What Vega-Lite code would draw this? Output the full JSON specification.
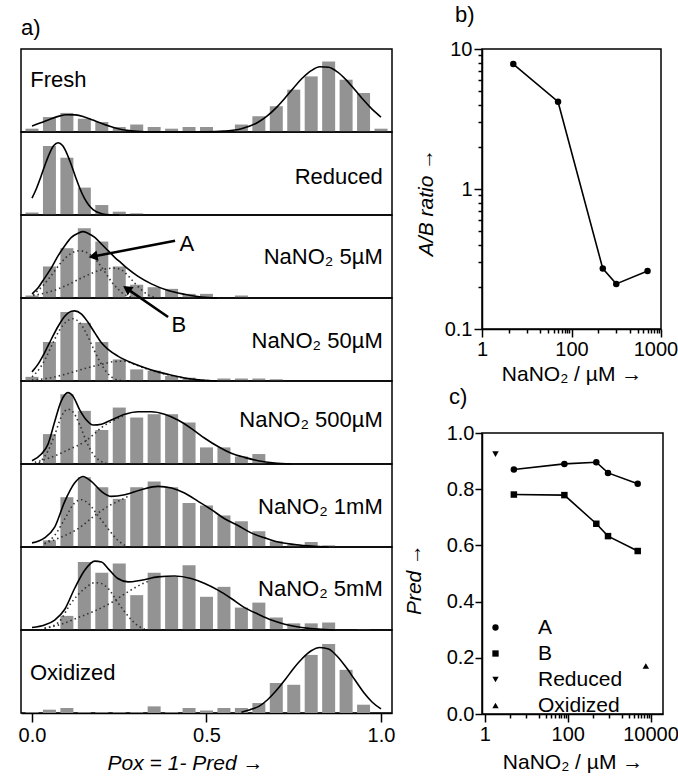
{
 "$schema": "https://vega.github.io/schema/vega-lite/v6.json",
 "background": "white",
 "padding": {"left": 17, "top": 3, "right": 0, "bottom": 0},
 "spacing": 6,
 "resolve": {"legend": {"shape": "independent"}, "scale": {"shape": "independent"}},
 "config": {
  "font": "Liberation Sans",
  "view": {"stroke": "black", "strokeWidth": 1.5},
  "axis": {"domainColor": "black", "domainWidth": 1.5, "tickColor": "black", "tickWidth": 1.5, "labelColor": "black", "titleColor": "black", "labelFontSize": 20, "titleFontSize": 21, "titleFontWeight": "normal", "grid": false, "labelFlush": false, "labelOverlap": false},
  "title": {"fontSize": 22, "fontWeight": "normal", "color": "black"},
  "legend": {"labelColor": "black"},
  "text": {"color": "black"}
 },
 "datasets": {
  "bars": [
   {"s":"Fresh","x":0,"y":0.04},{"s":"Fresh","x":0.05,"y":0.18},{"s":"Fresh","x":0.1,"y":0.23},{"s":"Fresh","x":0.15,"y":0.16},{"s":"Fresh","x":0.2,"y":0.12},{"s":"Fresh","x":0.25,"y":0.06},{"s":"Fresh","x":0.3,"y":0.09},{"s":"Fresh","x":0.35,"y":0.06},{"s":"Fresh","x":0.4,"y":0.04},{"s":"Fresh","x":0.45,"y":0.06},{"s":"Fresh","x":0.5,"y":0.06},{"s":"Fresh","x":0.6,"y":0.09},{"s":"Fresh","x":0.65,"y":0.19},{"s":"Fresh","x":0.7,"y":0.31},{"s":"Fresh","x":0.75,"y":0.51},{"s":"Fresh","x":0.8,"y":0.67},{"s":"Fresh","x":0.85,"y":0.85},{"s":"Fresh","x":0.9,"y":0.63},{"s":"Fresh","x":0.95,"y":0.47},{"s":"Fresh","x":1,"y":0.04},
   {"s":"Reduced","x":0,"y":0.03},{"s":"Reduced","x":0.05,"y":0.83},{"s":"Reduced","x":0.1,"y":0.69},{"s":"Reduced","x":0.15,"y":0.33},{"s":"Reduced","x":0.2,"y":0.12},{"s":"Reduced","x":0.25,"y":0.04},{"s":"Reduced","x":0.3,"y":0.02},
   {"s":"5uM","x":0,"y":0.03},{"s":"5uM","x":0.05,"y":0.38},{"s":"5uM","x":0.1,"y":0.6},{"s":"5uM","x":0.15,"y":0.84},{"s":"5uM","x":0.2,"y":0.68},{"s":"5uM","x":0.25,"y":0.38},{"s":"5uM","x":0.3,"y":0.16},{"s":"5uM","x":0.35,"y":0.13},{"s":"5uM","x":0.4,"y":0.11},{"s":"5uM","x":0.45,"y":0.05},{"s":"5uM","x":0.5,"y":0.05},{"s":"5uM","x":0.6,"y":0.03},
   {"s":"50uM","x":0,"y":0.05},{"s":"50uM","x":0.05,"y":0.47},{"s":"50uM","x":0.1,"y":0.83},{"s":"50uM","x":0.15,"y":0.7},{"s":"50uM","x":0.2,"y":0.47},{"s":"50uM","x":0.25,"y":0.26},{"s":"50uM","x":0.3,"y":0.14},{"s":"50uM","x":0.35,"y":0.125},{"s":"50uM","x":0.4,"y":0.06},{"s":"50uM","x":0.45,"y":0.04},{"s":"50uM","x":0.55,"y":0.03},{"s":"50uM","x":0.6,"y":0.03},{"s":"50uM","x":0.65,"y":0.03},{"s":"50uM","x":0.7,"y":0.02},
   {"s":"500uM","x":0.05,"y":0.36},{"s":"500uM","x":0.1,"y":0.84},{"s":"500uM","x":0.15,"y":0.64},{"s":"500uM","x":0.2,"y":0.41},{"s":"500uM","x":0.25,"y":0.68},{"s":"500uM","x":0.3,"y":0.56},{"s":"500uM","x":0.35,"y":0.6},{"s":"500uM","x":0.4,"y":0.6},{"s":"500uM","x":0.45,"y":0.5},{"s":"500uM","x":0.5,"y":0.2},{"s":"500uM","x":0.55,"y":0.2},{"s":"500uM","x":0.6,"y":0.09},{"s":"500uM","x":0.65,"y":0.12},
   {"s":"1mM","x":0.05,"y":0.08},{"s":"1mM","x":0.1,"y":0.6},{"s":"1mM","x":0.15,"y":0.84},{"s":"1mM","x":0.2,"y":0.72},{"s":"1mM","x":0.25,"y":0.58},{"s":"1mM","x":0.3,"y":0.72},{"s":"1mM","x":0.35,"y":0.79},{"s":"1mM","x":0.4,"y":0.72},{"s":"1mM","x":0.45,"y":0.53},{"s":"1mM","x":0.5,"y":0.5},{"s":"1mM","x":0.55,"y":0.38},{"s":"1mM","x":0.6,"y":0.31},{"s":"1mM","x":0.65,"y":0.19},{"s":"1mM","x":0.7,"y":0.07},{"s":"1mM","x":0.75,"y":0.03},{"s":"1mM","x":0.8,"y":0.06},{"s":"1mM","x":0.85,"y":0.02},
   {"s":"5mM","x":0.1,"y":0.17},{"s":"5mM","x":0.15,"y":0.82},{"s":"5mM","x":0.2,"y":0.69},{"s":"5mM","x":0.25,"y":0.8},{"s":"5mM","x":0.3,"y":0.42},{"s":"5mM","x":0.35,"y":0.69},{"s":"5mM","x":0.4,"y":0.64},{"s":"5mM","x":0.45,"y":0.78},{"s":"5mM","x":0.5,"y":0.4},{"s":"5mM","x":0.55,"y":0.52},{"s":"5mM","x":0.6,"y":0.27},{"s":"5mM","x":0.65,"y":0.33},{"s":"5mM","x":0.7,"y":0.15},{"s":"5mM","x":0.75,"y":0.08},{"s":"5mM","x":0.8,"y":0.08},{"s":"5mM","x":0.85,"y":0.09},{"s":"5mM","x":0.95,"y":0.01},
   {"s":"Oxidized","x":0,"y":0.01},{"s":"Oxidized","x":0.05,"y":0.04},{"s":"Oxidized","x":0.1,"y":0.06},{"s":"Oxidized","x":0.15,"y":0.01},{"s":"Oxidized","x":0.2,"y":0.01},{"s":"Oxidized","x":0.25,"y":0.01},{"s":"Oxidized","x":0.3,"y":0.01},{"s":"Oxidized","x":0.35,"y":0.08},{"s":"Oxidized","x":0.4,"y":0.01},{"s":"Oxidized","x":0.45,"y":0.06},{"s":"Oxidized","x":0.5,"y":0.03},{"s":"Oxidized","x":0.55,"y":0.06},{"s":"Oxidized","x":0.6,"y":0.06},{"s":"Oxidized","x":0.65,"y":0.12},{"s":"Oxidized","x":0.7,"y":0.36},{"s":"Oxidized","x":0.75,"y":0.34},{"s":"Oxidized","x":0.8,"y":0.7},{"s":"Oxidized","x":0.85,"y":0.83},{"s":"Oxidized","x":0.9,"y":0.52},{"s":"Oxidized","x":0.95,"y":0.1}
  ],
  "curves": [
   {"s":"Fresh","c":"fit","x":0,"y":0.072},{"s":"Fresh","c":"fit","x":0.025,"y":0.11},{"s":"Fresh","c":"fit","x":0.05,"y":0.152},{"s":"Fresh","c":"fit","x":0.075,"y":0.188},{"s":"Fresh","c":"fit","x":0.1,"y":0.208},{"s":"Fresh","c":"fit","x":0.125,"y":0.206},{"s":"Fresh","c":"fit","x":0.15,"y":0.182},{"s":"Fresh","c":"fit","x":0.175,"y":0.144},{"s":"Fresh","c":"fit","x":0.2,"y":0.102},{"s":"Fresh","c":"fit","x":0.225,"y":0.066},{"s":"Fresh","c":"fit","x":0.25,"y":0.037},{"s":"Fresh","c":"fit","x":0.3,"y":0.009},{"s":"Fresh","c":"fit","x":0.35,"y":0.001},{"s":"Fresh","c":"fit","x":0.4,"y":0},{"s":"Fresh","c":"fit","x":0.45,"y":0},{"s":"Fresh","c":"fit","x":0.5,"y":0.001},{"s":"Fresh","c":"fit","x":0.55,"y":0.01},{"s":"Fresh","c":"fit","x":0.6,"y":0.039},{"s":"Fresh","c":"fit","x":0.65,"y":0.123},{"s":"Fresh","c":"fit","x":0.675,"y":0.197},{"s":"Fresh","c":"fit","x":0.7,"y":0.294},{"s":"Fresh","c":"fit","x":0.725,"y":0.41},{"s":"Fresh","c":"fit","x":0.75,"y":0.534},{"s":"Fresh","c":"fit","x":0.775,"y":0.65},{"s":"Fresh","c":"fit","x":0.8,"y":0.739},{"s":"Fresh","c":"fit","x":0.825,"y":0.786},{"s":"Fresh","c":"fit","x":0.85,"y":0.78},{"s":"Fresh","c":"fit","x":0.875,"y":0.724},{"s":"Fresh","c":"fit","x":0.9,"y":0.628},{"s":"Fresh","c":"fit","x":0.925,"y":0.509},{"s":"Fresh","c":"fit","x":0.95,"y":0.385},{"s":"Fresh","c":"fit","x":0.975,"y":0.273},{"s":"Fresh","c":"fit","x":1,"y":0.18},
   {"s":"Reduced","c":"fit","x":0,"y":0.203},{"s":"Reduced","c":"fit","x":0.0125,"y":0.317},{"s":"Reduced","c":"fit","x":0.025,"y":0.456},{"s":"Reduced","c":"fit","x":0.0375,"y":0.605},{"s":"Reduced","c":"fit","x":0.05,"y":0.74},{"s":"Reduced","c":"fit","x":0.0625,"y":0.836},{"s":"Reduced","c":"fit","x":0.075,"y":0.87},{"s":"Reduced","c":"fit","x":0.0875,"y":0.836},{"s":"Reduced","c":"fit","x":0.1,"y":0.74},{"s":"Reduced","c":"fit","x":0.1125,"y":0.605},{"s":"Reduced","c":"fit","x":0.125,"y":0.456},{"s":"Reduced","c":"fit","x":0.1375,"y":0.317},{"s":"Reduced","c":"fit","x":0.15,"y":0.203},{"s":"Reduced","c":"fit","x":0.1625,"y":0.12},{"s":"Reduced","c":"fit","x":0.175,"y":0.066},{"s":"Reduced","c":"fit","x":0.2,"y":0.016},{"s":"Reduced","c":"fit","x":0.225,"y":0.003},{"s":"Reduced","c":"fit","x":0.25,"y":0},
   {"s":"5uM","c":"fit","x":0,"y":0.05},{"s":"5uM","c":"fit","x":0.017,"y":0.12},{"s":"5uM","c":"fit","x":0.036,"y":0.24},{"s":"5uM","c":"fit","x":0.055,"y":0.36},{"s":"5uM","c":"fit","x":0.075,"y":0.51},{"s":"5uM","c":"fit","x":0.094,"y":0.63},{"s":"5uM","c":"fit","x":0.113,"y":0.73},{"s":"5uM","c":"fit","x":0.132,"y":0.78},{"s":"5uM","c":"fit","x":0.146,"y":0.8},{"s":"5uM","c":"fit","x":0.16,"y":0.78},{"s":"5uM","c":"fit","x":0.18,"y":0.73},{"s":"5uM","c":"fit","x":0.199,"y":0.65},{"s":"5uM","c":"fit","x":0.218,"y":0.57},{"s":"5uM","c":"fit","x":0.237,"y":0.49},{"s":"5uM","c":"fit","x":0.256,"y":0.42},{"s":"5uM","c":"fit","x":0.275,"y":0.35},{"s":"5uM","c":"fit","x":0.304,"y":0.26},{"s":"5uM","c":"fit","x":0.342,"y":0.17},{"s":"5uM","c":"fit","x":0.39,"y":0.09},{"s":"5uM","c":"fit","x":0.437,"y":0.045},{"s":"5uM","c":"fit","x":0.485,"y":0.012},{"s":"5uM","c":"fit","x":0.53,"y":0},
   {"s":"5uM","c":"A","x":0.003,"y":0.04},{"s":"5uM","c":"A","x":0.027,"y":0.13},{"s":"5uM","c":"A","x":0.055,"y":0.27},{"s":"5uM","c":"A","x":0.084,"y":0.43},{"s":"5uM","c":"A","x":0.113,"y":0.54},{"s":"5uM","c":"A","x":0.137,"y":0.57},{"s":"5uM","c":"A","x":0.16,"y":0.54},{"s":"5uM","c":"A","x":0.189,"y":0.43},{"s":"5uM","c":"A","x":0.208,"y":0.32},{"s":"5uM","c":"A","x":0.227,"y":0.2},{"s":"5uM","c":"A","x":0.246,"y":0.11},{"s":"5uM","c":"A","x":0.266,"y":0.04},{"s":"5uM","c":"A","x":0.29,"y":0.01},
   {"s":"5uM","c":"B","x":0.003,"y":0.03},{"s":"5uM","c":"B","x":0.055,"y":0.08},{"s":"5uM","c":"B","x":0.103,"y":0.16},{"s":"5uM","c":"B","x":0.151,"y":0.26},{"s":"5uM","c":"B","x":0.199,"y":0.34},{"s":"5uM","c":"B","x":0.237,"y":0.36},{"s":"5uM","c":"B","x":0.256,"y":0.34},{"s":"5uM","c":"B","x":0.275,"y":0.27},{"s":"5uM","c":"B","x":0.294,"y":0.18},{"s":"5uM","c":"B","x":0.313,"y":0.1},{"s":"5uM","c":"B","x":0.332,"y":0.04},{"s":"5uM","c":"B","x":0.35,"y":0.01},
   {"s":"50uM","c":"fit","x":0,"y":0.11},{"s":"50uM","c":"fit","x":0.017,"y":0.2},{"s":"50uM","c":"fit","x":0.036,"y":0.34},{"s":"50uM","c":"fit","x":0.055,"y":0.5},{"s":"50uM","c":"fit","x":0.075,"y":0.66},{"s":"50uM","c":"fit","x":0.094,"y":0.78},{"s":"50uM","c":"fit","x":0.113,"y":0.84},{"s":"50uM","c":"fit","x":0.122,"y":0.845},{"s":"50uM","c":"fit","x":0.141,"y":0.81},{"s":"50uM","c":"fit","x":0.16,"y":0.71},{"s":"50uM","c":"fit","x":0.18,"y":0.58},{"s":"50uM","c":"fit","x":0.199,"y":0.46},{"s":"50uM","c":"fit","x":0.218,"y":0.38},{"s":"50uM","c":"fit","x":0.246,"y":0.3},{"s":"50uM","c":"fit","x":0.285,"y":0.22},{"s":"50uM","c":"fit","x":0.323,"y":0.16},{"s":"50uM","c":"fit","x":0.361,"y":0.11},{"s":"50uM","c":"fit","x":0.4,"y":0.07},{"s":"50uM","c":"fit","x":0.437,"y":0.036},{"s":"50uM","c":"fit","x":0.485,"y":0.012},{"s":"50uM","c":"fit","x":0.53,"y":0},
   {"s":"50uM","c":"A","x":0,"y":0.05},{"s":"50uM","c":"A","x":0.02,"y":0.14},{"s":"50uM","c":"A","x":0.04,"y":0.28},{"s":"50uM","c":"A","x":0.06,"y":0.46},{"s":"50uM","c":"A","x":0.08,"y":0.62},{"s":"50uM","c":"A","x":0.1,"y":0.72},{"s":"50uM","c":"A","x":0.117,"y":0.75},{"s":"50uM","c":"A","x":0.135,"y":0.71},{"s":"50uM","c":"A","x":0.155,"y":0.58},{"s":"50uM","c":"A","x":0.175,"y":0.4},{"s":"50uM","c":"A","x":0.195,"y":0.23},{"s":"50uM","c":"A","x":0.215,"y":0.1},{"s":"50uM","c":"A","x":0.235,"y":0.03},{"s":"50uM","c":"A","x":0.255,"y":0.005},
   {"s":"50uM","c":"B","x":0,"y":0.01},{"s":"50uM","c":"B","x":0.055,"y":0.04},{"s":"50uM","c":"B","x":0.103,"y":0.09},{"s":"50uM","c":"B","x":0.151,"y":0.15},{"s":"50uM","c":"B","x":0.199,"y":0.2},{"s":"50uM","c":"B","x":0.237,"y":0.235},{"s":"50uM","c":"B","x":0.266,"y":0.24},{"s":"50uM","c":"B","x":0.294,"y":0.2},{"s":"50uM","c":"B","x":0.323,"y":0.155},{"s":"50uM","c":"B","x":0.361,"y":0.105},{"s":"50uM","c":"B","x":0.4,"y":0.066},{"s":"50uM","c":"B","x":0.437,"y":0.034},{"s":"50uM","c":"B","x":0.485,"y":0.01},{"s":"50uM","c":"B","x":0.53,"y":0},
   {"s":"500uM","c":"fit","x":0,"y":0.04},{"s":"500uM","c":"fit","x":0.027,"y":0.12},{"s":"500uM","c":"fit","x":0.046,"y":0.24},{"s":"500uM","c":"fit","x":0.065,"y":0.51},{"s":"500uM","c":"fit","x":0.084,"y":0.76},{"s":"500uM","c":"fit","x":0.103,"y":0.86},{"s":"500uM","c":"fit","x":0.117,"y":0.82},{"s":"500uM","c":"fit","x":0.137,"y":0.65},{"s":"500uM","c":"fit","x":0.156,"y":0.53},{"s":"500uM","c":"fit","x":0.175,"y":0.47},{"s":"500uM","c":"fit","x":0.199,"y":0.48},{"s":"500uM","c":"fit","x":0.227,"y":0.53},{"s":"500uM","c":"fit","x":0.266,"y":0.6},{"s":"500uM","c":"fit","x":0.304,"y":0.63},{"s":"500uM","c":"fit","x":0.342,"y":0.63},{"s":"500uM","c":"fit","x":0.38,"y":0.6},{"s":"500uM","c":"fit","x":0.418,"y":0.53},{"s":"500uM","c":"fit","x":0.456,"y":0.43},{"s":"500uM","c":"fit","x":0.495,"y":0.31},{"s":"500uM","c":"fit","x":0.533,"y":0.21},{"s":"500uM","c":"fit","x":0.571,"y":0.13},{"s":"500uM","c":"fit","x":0.609,"y":0.08},{"s":"500uM","c":"fit","x":0.648,"y":0.04},{"s":"500uM","c":"fit","x":0.695,"y":0.012},{"s":"500uM","c":"fit","x":0.743,"y":0},
   {"s":"500uM","c":"A","x":0.02,"y":0.01},{"s":"500uM","c":"A","x":0.046,"y":0.16},{"s":"500uM","c":"A","x":0.065,"y":0.35},{"s":"500uM","c":"A","x":0.084,"y":0.57},{"s":"500uM","c":"A","x":0.103,"y":0.66},{"s":"500uM","c":"A","x":0.117,"y":0.63},{"s":"500uM","c":"A","x":0.137,"y":0.47},{"s":"500uM","c":"A","x":0.156,"y":0.27},{"s":"500uM","c":"A","x":0.175,"y":0.12},{"s":"500uM","c":"A","x":0.194,"y":0.04},{"s":"500uM","c":"A","x":0.213,"y":0.01},
   {"s":"500uM","c":"B","x":0.008,"y":0.02},{"s":"500uM","c":"B","x":0.055,"y":0.08},{"s":"500uM","c":"B","x":0.103,"y":0.17},{"s":"500uM","c":"B","x":0.151,"y":0.27},{"s":"500uM","c":"B","x":0.175,"y":0.35},{"s":"500uM","c":"B","x":0.199,"y":0.44},{"s":"500uM","c":"B","x":0.227,"y":0.51},{"s":"500uM","c":"B","x":0.266,"y":0.59},
   {"s":"1mM","c":"fit","x":0,"y":0.05},{"s":"1mM","c":"fit","x":0.036,"y":0.11},{"s":"1mM","c":"fit","x":0.065,"y":0.24},{"s":"1mM","c":"fit","x":0.094,"y":0.55},{"s":"1mM","c":"fit","x":0.122,"y":0.77},{"s":"1mM","c":"fit","x":0.146,"y":0.85},{"s":"1mM","c":"fit","x":0.17,"y":0.79},{"s":"1mM","c":"fit","x":0.199,"y":0.67},{"s":"1mM","c":"fit","x":0.227,"y":0.61},{"s":"1mM","c":"fit","x":0.266,"y":0.63},{"s":"1mM","c":"fit","x":0.313,"y":0.69},{"s":"1mM","c":"fit","x":0.361,"y":0.73},{"s":"1mM","c":"fit","x":0.4,"y":0.71},{"s":"1mM","c":"fit","x":0.437,"y":0.65},{"s":"1mM","c":"fit","x":0.476,"y":0.55},{"s":"1mM","c":"fit","x":0.514,"y":0.45},{"s":"1mM","c":"fit","x":0.552,"y":0.34},{"s":"1mM","c":"fit","x":0.59,"y":0.26},{"s":"1mM","c":"fit","x":0.628,"y":0.17},{"s":"1mM","c":"fit","x":0.667,"y":0.11},{"s":"1mM","c":"fit","x":0.705,"y":0.06},{"s":"1mM","c":"fit","x":0.753,"y":0.03},{"s":"1mM","c":"fit","x":0.8,"y":0.01},{"s":"1mM","c":"fit","x":0.85,"y":0},
   {"s":"1mM","c":"A","x":0.036,"y":0.04},{"s":"1mM","c":"A","x":0.065,"y":0.14},{"s":"1mM","c":"A","x":0.094,"y":0.34},{"s":"1mM","c":"A","x":0.122,"y":0.53},{"s":"1mM","c":"A","x":0.141,"y":0.57},{"s":"1mM","c":"A","x":0.16,"y":0.53},{"s":"1mM","c":"A","x":0.189,"y":0.38},{"s":"1mM","c":"A","x":0.218,"y":0.22},{"s":"1mM","c":"A","x":0.246,"y":0.08},{"s":"1mM","c":"A","x":0.266,"y":0.02},
   {"s":"1mM","c":"B","x":0.036,"y":0.04},{"s":"1mM","c":"B","x":0.084,"y":0.12},{"s":"1mM","c":"B","x":0.132,"y":0.22},{"s":"1mM","c":"B","x":0.18,"y":0.38},{"s":"1mM","c":"B","x":0.218,"y":0.49},{"s":"1mM","c":"B","x":0.256,"y":0.57},{"s":"1mM","c":"B","x":0.28,"y":0.62},
   {"s":"5mM","c":"fit","x":0,"y":0.03},{"s":"5mM","c":"fit","x":0.036,"y":0.06},{"s":"5mM","c":"fit","x":0.065,"y":0.12},{"s":"5mM","c":"fit","x":0.094,"y":0.25},{"s":"5mM","c":"fit","x":0.122,"y":0.5},{"s":"5mM","c":"fit","x":0.151,"y":0.72},{"s":"5mM","c":"fit","x":0.18,"y":0.83},{"s":"5mM","c":"fit","x":0.199,"y":0.82},{"s":"5mM","c":"fit","x":0.218,"y":0.74},{"s":"5mM","c":"fit","x":0.246,"y":0.62},{"s":"5mM","c":"fit","x":0.275,"y":0.58},{"s":"5mM","c":"fit","x":0.313,"y":0.6},{"s":"5mM","c":"fit","x":0.361,"y":0.64},{"s":"5mM","c":"fit","x":0.409,"y":0.65},{"s":"5mM","c":"fit","x":0.456,"y":0.62},{"s":"5mM","c":"fit","x":0.495,"y":0.56},{"s":"5mM","c":"fit","x":0.533,"y":0.48},{"s":"5mM","c":"fit","x":0.571,"y":0.38},{"s":"5mM","c":"fit","x":0.609,"y":0.27},{"s":"5mM","c":"fit","x":0.648,"y":0.19},{"s":"5mM","c":"fit","x":0.686,"y":0.12},{"s":"5mM","c":"fit","x":0.724,"y":0.07},{"s":"5mM","c":"fit","x":0.772,"y":0.03},{"s":"5mM","c":"fit","x":0.82,"y":0.012},{"s":"5mM","c":"fit","x":0.867,"y":0},
   {"s":"5mM","c":"A","x":0.036,"y":0.02},{"s":"5mM","c":"A","x":0.075,"y":0.09},{"s":"5mM","c":"A","x":0.113,"y":0.33},{"s":"5mM","c":"A","x":0.151,"y":0.5},{"s":"5mM","c":"A","x":0.18,"y":0.57},{"s":"5mM","c":"A","x":0.199,"y":0.56},{"s":"5mM","c":"A","x":0.218,"y":0.5},{"s":"5mM","c":"A","x":0.246,"y":0.33},{"s":"5mM","c":"A","x":0.275,"y":0.17},{"s":"5mM","c":"A","x":0.304,"y":0.05},{"s":"5mM","c":"A","x":0.323,"y":0.01},
   {"s":"5mM","c":"B","x":0.036,"y":0.02},{"s":"5mM","c":"B","x":0.084,"y":0.07},{"s":"5mM","c":"B","x":0.132,"y":0.15},{"s":"5mM","c":"B","x":0.18,"y":0.23},{"s":"5mM","c":"B","x":0.227,"y":0.33},{"s":"5mM","c":"B","x":0.275,"y":0.46},{"s":"5mM","c":"B","x":0.313,"y":0.55},{"s":"5mM","c":"B","x":0.34,"y":0.6},
   {"s":"Oxidized","c":"fit","x":0.6,"y":0.01},{"s":"Oxidized","c":"fit","x":0.625,"y":0.04},{"s":"Oxidized","c":"fit","x":0.65,"y":0.08},{"s":"Oxidized","c":"fit","x":0.675,"y":0.16},{"s":"Oxidized","c":"fit","x":0.7,"y":0.27},{"s":"Oxidized","c":"fit","x":0.725,"y":0.4},{"s":"Oxidized","c":"fit","x":0.75,"y":0.54},{"s":"Oxidized","c":"fit","x":0.775,"y":0.66},{"s":"Oxidized","c":"fit","x":0.8,"y":0.75},{"s":"Oxidized","c":"fit","x":0.825,"y":0.79},{"s":"Oxidized","c":"fit","x":0.85,"y":0.77},{"s":"Oxidized","c":"fit","x":0.875,"y":0.68},{"s":"Oxidized","c":"fit","x":0.9,"y":0.55},{"s":"Oxidized","c":"fit","x":0.925,"y":0.4},{"s":"Oxidized","c":"fit","x":0.95,"y":0.25},{"s":"Oxidized","c":"fit","x":0.975,"y":0.13},{"s":"Oxidized","c":"fit","x":1,"y":0.05}
  ],
  "ratio": [
   {"conc":5,"ratio":7.8},{"conc":50,"ratio":4.2},{"conc":500,"ratio":0.27},{"conc":1000,"ratio":0.21},{"conc":5000,"ratio":0.26}
  ],
  "pred": [
   {"series":"A","conc":5,"p":0.87},{"series":"A","conc":83,"p":0.89},{"series":"A","conc":490,"p":0.896},{"series":"A","conc":940,"p":0.858},{"series":"A","conc":4900,"p":0.819},
   {"series":"B","conc":5,"p":0.781},{"series":"B","conc":83,"p":0.779},{"series":"B","conc":490,"p":0.677},{"series":"B","conc":940,"p":0.633},{"series":"B","conc":4900,"p":0.58},
   {"series":"Reduced","conc":1.8,"p":0.925},
   {"series":"Oxidized","conc":7700,"p":0.171}
  ]
 },
 "hconcat": [
  {
   "title": {"text": "a)", "anchor": "start", "frame": "group", "offset": 8},
   "spacing": 0,
   "bounds": "flush",
   "vconcat": [
    {
     "width": 371, "height": 83,
     "layer": [
      {"data": {"name": "bars"}, "transform": [{"filter": "datum.s == 'Fresh'"}], "mark": {"type": "bar", "orient": "vertical", "width": 13, "color": "#939393"},
       "encoding": {"x": {"field": "x", "type": "quantitative", "scale": {"domain": [-0.0315, 1.0315], "nice": false, "zero": false, "padding": 0}, "axis": null}, "y": {"field": "y", "type": "quantitative", "scale": {"domain": [0, 1], "nice": false}, "axis": null}}},
      {"data": {"name": "curves"}, "transform": [{"filter": "datum.s == 'Fresh' && datum.c == 'fit'"}], "mark": {"type": "line", "color": "black", "strokeWidth": 1.6, "interpolate": "monotone"},
       "encoding": {"x": {"field": "x", "type": "quantitative"}, "y": {"field": "y", "type": "quantitative"}}},
      {"data": {"values": [{"label": "Fresh"}]}, "mark": {"type": "text", "align": "left", "baseline": "middle", "fontSize": 22},
       "encoding": {"x": {"datum": -0.005, "type": "quantitative"}, "y": {"datum": 0.63, "type": "quantitative"}, "text": {"field": "label"}}}
     ]
    },
    {
     "width": 371, "height": 83,
     "layer": [
      {"data": {"name": "bars"}, "transform": [{"filter": "datum.s == 'Reduced'"}], "mark": {"type": "bar", "orient": "vertical", "width": 13, "color": "#939393"},
       "encoding": {"x": {"field": "x", "type": "quantitative", "scale": {"domain": [-0.0315, 1.0315], "nice": false, "zero": false, "padding": 0}, "axis": null}, "y": {"field": "y", "type": "quantitative", "scale": {"domain": [0, 1], "nice": false}, "axis": null}}},
      {"data": {"name": "curves"}, "transform": [{"filter": "datum.s == 'Reduced' && datum.c == 'fit'"}], "mark": {"type": "line", "color": "black", "strokeWidth": 1.6, "interpolate": "monotone"},
       "encoding": {"x": {"field": "x", "type": "quantitative"}, "y": {"field": "y", "type": "quantitative"}}},
      {"data": {"values": [{"label": "Reduced"}]}, "mark": {"type": "text", "align": "right", "baseline": "middle", "fontSize": 22},
       "encoding": {"x": {"datum": 1.005, "type": "quantitative"}, "y": {"datum": 0.46, "type": "quantitative"}, "text": {"field": "label"}}}
     ]
    },
    {
     "width": 371, "height": 83,
     "layer": [
      {"data": {"name": "bars"}, "transform": [{"filter": "datum.s == '5uM'"}], "mark": {"type": "bar", "orient": "vertical", "width": 13, "color": "#939393"},
       "encoding": {"x": {"field": "x", "type": "quantitative", "scale": {"domain": [-0.0315, 1.0315], "nice": false, "zero": false, "padding": 0}, "axis": null}, "y": {"field": "y", "type": "quantitative", "scale": {"domain": [0, 1], "nice": false}, "axis": null}}},
      {"data": {"name": "curves"}, "transform": [{"filter": "datum.s == '5uM' && datum.c != 'fit'"}], "mark": {"type": "line", "color": "#333333", "strokeWidth": 1.6, "strokeDash": [1.5, 3], "interpolate": "monotone"},
       "encoding": {"x": {"field": "x", "type": "quantitative"}, "y": {"field": "y", "type": "quantitative"}, "detail": {"field": "c"}}},
      {"data": {"name": "curves"}, "transform": [{"filter": "datum.s == '5uM' && datum.c == 'fit'"}], "mark": {"type": "line", "color": "black", "strokeWidth": 1.6, "interpolate": "monotone"},
       "encoding": {"x": {"field": "x", "type": "quantitative"}, "y": {"field": "y", "type": "quantitative"}}},
      {"data": {"values": [{"label": "NaNO₂ 5µM"}]}, "mark": {"type": "text", "align": "right", "baseline": "middle", "fontSize": 22},
       "encoding": {"x": {"datum": 1.005, "type": "quantitative"}, "y": {"datum": 0.49, "type": "quantitative"}, "text": {"field": "label"}}},
      {"data": {"values": [{"k": 1}]}, "mark": {"type": "rule", "color": "black", "strokeWidth": 2.5},
       "encoding": {"x": {"datum": 0.41, "type": "quantitative"}, "y": {"datum": 0.69, "type": "quantitative"}, "x2": {"datum": 0.175}, "y2": {"datum": 0.5}}},
      {"data": {"values": [{"k": 1}]}, "mark": {"type": "point", "shape": "triangle-up", "filled": true, "color": "black", "opacity": 1, "size": 110, "angle": 259},
       "encoding": {"x": {"datum": 0.175, "type": "quantitative"}, "y": {"datum": 0.5, "type": "quantitative"}}},
      {"data": {"values": [{"k": 1}]}, "mark": {"type": "rule", "color": "black", "strokeWidth": 2.5},
       "encoding": {"x": {"datum": 0.39, "type": "quantitative"}, "y": {"datum": -0.23, "type": "quantitative"}, "x2": {"datum": 0.272}, "y2": {"datum": 0.113}}},
      {"data": {"values": [{"k": 1}]}, "mark": {"type": "point", "shape": "triangle-up", "filled": true, "color": "black", "opacity": 1, "size": 110, "angle": 305},
       "encoding": {"x": {"datum": 0.272, "type": "quantitative"}, "y": {"datum": 0.113, "type": "quantitative"}}},
      {"data": {"values": [{"label": "A"}]}, "mark": {"type": "text", "align": "center", "baseline": "middle", "fontSize": 22},
       "encoding": {"x": {"datum": 0.444, "type": "quantitative"}, "y": {"datum": 0.65, "type": "quantitative"}, "text": {"field": "label"}}},
      {"data": {"values": [{"label": "B"}]}, "mark": {"type": "text", "align": "center", "baseline": "middle", "fontSize": 22},
       "encoding": {"x": {"datum": 0.421, "type": "quantitative"}, "y": {"datum": -0.32, "type": "quantitative"}, "text": {"field": "label"}}}
     ]
    },
    {
     "width": 371, "height": 83,
     "layer": [
      {"data": {"name": "bars"}, "transform": [{"filter": "datum.s == '50uM'"}], "mark": {"type": "bar", "orient": "vertical", "width": 13, "color": "#939393"},
       "encoding": {"x": {"field": "x", "type": "quantitative", "scale": {"domain": [-0.0315, 1.0315], "nice": false, "zero": false, "padding": 0}, "axis": null}, "y": {"field": "y", "type": "quantitative", "scale": {"domain": [0, 1], "nice": false}, "axis": null}}},
      {"data": {"name": "curves"}, "transform": [{"filter": "datum.s == '50uM' && datum.c != 'fit'"}], "mark": {"type": "line", "color": "#333333", "strokeWidth": 1.6, "strokeDash": [1.5, 3], "interpolate": "monotone"},
       "encoding": {"x": {"field": "x", "type": "quantitative"}, "y": {"field": "y", "type": "quantitative"}, "detail": {"field": "c"}}},
      {"data": {"name": "curves"}, "transform": [{"filter": "datum.s == '50uM' && datum.c == 'fit'"}], "mark": {"type": "line", "color": "black", "strokeWidth": 1.6, "interpolate": "monotone"},
       "encoding": {"x": {"field": "x", "type": "quantitative"}, "y": {"field": "y", "type": "quantitative"}}},
      {"data": {"values": [{"label": "NaNO₂ 50µM"}]}, "mark": {"type": "text", "align": "right", "baseline": "middle", "fontSize": 22},
       "encoding": {"x": {"datum": 1.005, "type": "quantitative"}, "y": {"datum": 0.48, "type": "quantitative"}, "text": {"field": "label"}}}
     ]
    },
    {
     "width": 371, "height": 83,
     "layer": [
      {"data": {"name": "bars"}, "transform": [{"filter": "datum.s == '500uM'"}], "mark": {"type": "bar", "orient": "vertical", "width": 13, "color": "#939393"},
       "encoding": {"x": {"field": "x", "type": "quantitative", "scale": {"domain": [-0.0315, 1.0315], "nice": false, "zero": false, "padding": 0}, "axis": null}, "y": {"field": "y", "type": "quantitative", "scale": {"domain": [0, 1], "nice": false}, "axis": null}}},
      {"data": {"name": "curves"}, "transform": [{"filter": "datum.s == '500uM' && datum.c != 'fit'"}], "mark": {"type": "line", "color": "#333333", "strokeWidth": 1.6, "strokeDash": [1.5, 3], "interpolate": "monotone"},
       "encoding": {"x": {"field": "x", "type": "quantitative"}, "y": {"field": "y", "type": "quantitative"}, "detail": {"field": "c"}}},
      {"data": {"name": "curves"}, "transform": [{"filter": "datum.s == '500uM' && datum.c == 'fit'"}], "mark": {"type": "line", "color": "black", "strokeWidth": 1.6, "interpolate": "monotone"},
       "encoding": {"x": {"field": "x", "type": "quantitative"}, "y": {"field": "y", "type": "quantitative"}}},
      {"data": {"values": [{"label": "NaNO₂ 500µM"}]}, "mark": {"type": "text", "align": "right", "baseline": "middle", "fontSize": 22},
       "encoding": {"x": {"datum": 1.005, "type": "quantitative"}, "y": {"datum": 0.53, "type": "quantitative"}, "text": {"field": "label"}}}
     ]
    },
    {
     "width": 371, "height": 83,
     "layer": [
      {"data": {"name": "bars"}, "transform": [{"filter": "datum.s == '1mM'"}], "mark": {"type": "bar", "orient": "vertical", "width": 13, "color": "#939393"},
       "encoding": {"x": {"field": "x", "type": "quantitative", "scale": {"domain": [-0.0315, 1.0315], "nice": false, "zero": false, "padding": 0}, "axis": null}, "y": {"field": "y", "type": "quantitative", "scale": {"domain": [0, 1], "nice": false}, "axis": null}}},
      {"data": {"name": "curves"}, "transform": [{"filter": "datum.s == '1mM' && datum.c != 'fit'"}], "mark": {"type": "line", "color": "#333333", "strokeWidth": 1.6, "strokeDash": [1.5, 3], "interpolate": "monotone"},
       "encoding": {"x": {"field": "x", "type": "quantitative"}, "y": {"field": "y", "type": "quantitative"}, "detail": {"field": "c"}}},
      {"data": {"name": "curves"}, "transform": [{"filter": "datum.s == '1mM' && datum.c == 'fit'"}], "mark": {"type": "line", "color": "black", "strokeWidth": 1.6, "interpolate": "monotone"},
       "encoding": {"x": {"field": "x", "type": "quantitative"}, "y": {"field": "y", "type": "quantitative"}}},
      {"data": {"values": [{"label": "NaNO₂ 1mM"}]}, "mark": {"type": "text", "align": "right", "baseline": "middle", "fontSize": 22},
       "encoding": {"x": {"datum": 1.005, "type": "quantitative"}, "y": {"datum": 0.48, "type": "quantitative"}, "text": {"field": "label"}}}
     ]
    },
    {
     "width": 371, "height": 83,
     "layer": [
      {"data": {"name": "bars"}, "transform": [{"filter": "datum.s == '5mM'"}], "mark": {"type": "bar", "orient": "vertical", "width": 13, "color": "#939393"},
       "encoding": {"x": {"field": "x", "type": "quantitative", "scale": {"domain": [-0.0315, 1.0315], "nice": false, "zero": false, "padding": 0}, "axis": null}, "y": {"field": "y", "type": "quantitative", "scale": {"domain": [0, 1], "nice": false}, "axis": null}}},
      {"data": {"name": "curves"}, "transform": [{"filter": "datum.s == '5mM' && datum.c != 'fit'"}], "mark": {"type": "line", "color": "#333333", "strokeWidth": 1.6, "strokeDash": [1.5, 3], "interpolate": "monotone"},
       "encoding": {"x": {"field": "x", "type": "quantitative"}, "y": {"field": "y", "type": "quantitative"}, "detail": {"field": "c"}}},
      {"data": {"name": "curves"}, "transform": [{"filter": "datum.s == '5mM' && datum.c == 'fit'"}], "mark": {"type": "line", "color": "black", "strokeWidth": 1.6, "interpolate": "monotone"},
       "encoding": {"x": {"field": "x", "type": "quantitative"}, "y": {"field": "y", "type": "quantitative"}}},
      {"data": {"values": [{"label": "NaNO₂ 5mM"}]}, "mark": {"type": "text", "align": "right", "baseline": "middle", "fontSize": 22},
       "encoding": {"x": {"datum": 1.005, "type": "quantitative"}, "y": {"datum": 0.5, "type": "quantitative"}, "text": {"field": "label"}}}
     ]
    },
    {
     "width": 371, "height": 83,
     "layer": [
      {"data": {"name": "bars"}, "transform": [{"filter": "datum.s == 'Oxidized'"}], "mark": {"type": "bar", "orient": "vertical", "width": 13, "color": "#939393"},
       "encoding": {"x": {"field": "x", "type": "quantitative", "scale": {"domain": [-0.0315, 1.0315], "nice": false, "zero": false, "padding": 0}, "axis": {"values": [0, 0.5, 1], "format": ".1f", "title": "Pox = 1- Pred  →", "titleFontStyle": "italic", "tickSize": 9, "labelPadding": 3, "titlePadding": 7, "titleX": 164}}, "y": {"field": "y", "type": "quantitative", "scale": {"domain": [0, 1], "nice": false}, "axis": null}}},
      {"data": {"name": "curves"}, "transform": [{"filter": "datum.s == 'Oxidized' && datum.c == 'fit'"}], "mark": {"type": "line", "color": "black", "strokeWidth": 1.6, "interpolate": "monotone"},
       "encoding": {"x": {"field": "x", "type": "quantitative"}, "y": {"field": "y", "type": "quantitative"}}},
      {"data": {"values": [{"label": "Oxidized"}]}, "mark": {"type": "text", "align": "left", "baseline": "middle", "fontSize": 22},
       "encoding": {"x": {"datum": -0.006, "type": "quantitative"}, "y": {"datum": 0.48, "type": "quantitative"}, "text": {"field": "label"}}}
     ]
    }
   ]
  },
  {
   "spacing": 0,
   "resolve": {"legend": {"shape": "independent"}, "scale": {"shape": "independent"}},
   "vconcat": [
    {
     "title": {"text": "b)", "anchor": "start", "frame": "group", "dx": -27, "offset": 12},
     "width": 179, "height": 280,
     "data": {"name": "ratio"},
     "encoding": {
      "x": {"field": "conc", "type": "quantitative", "scale": {"type": "log", "domain": [1, 10000], "nice": false},
       "axis": {"values": [1, 4, 10, 20, 30, 40, 50, 60, 70, 80, 90, 100, 400, 1000, 2000, 3000, 4000, 5000, 6000, 7000, 8000, 9000, 10000],
        "labelExpr": "datum.value == 1 || datum.value == 100 || datum.value == 10000 ? format(datum.value, 'd') : ''",
        "tickSize": {"condition": {"test": "datum.value == 1 || datum.value == 100 || datum.value == 10000", "value": 8}, "value": 4},
        "labelPadding": 2, "title": "NaNO₂ / µM   →", "titlePadding": 4}},
      "y": {"field": "ratio", "type": "quantitative", "scale": {"type": "log", "domain": [0.1, 10], "nice": false},
       "axis": {"values": [0.1, 0.2, 0.3, 0.4, 0.5, 0.6, 0.7, 0.8, 0.9, 1, 2, 3, 4, 5, 6, 7, 8, 9, 10],
        "labelExpr": "datum.value == 0.1 ? '0.1' : datum.value == 1 ? '1' : datum.value == 10 ? '10' : ''",
        "tickSize": {"condition": {"test": "datum.value == 0.1 || datum.value == 1 || datum.value == 10", "value": 8}, "value": 4},
        "labelPadding": 2, "title": "A/B ratio  →", "titleFontStyle": "italic", "titlePadding": 8, "titleY": 153}}
     },
     "layer": [
      {"mark": {"type": "line", "color": "black", "strokeWidth": 1.6}},
      {"mark": {"type": "point", "filled": true, "color": "black", "opacity": 1, "size": 42}}
     ]
    },
    {
     "title": {"text": "c)", "anchor": "start", "frame": "group", "dx": -33, "offset": 14},
     "width": 181, "height": 281,
     "data": {"name": "pred"},
     "encoding": {
      "x": {"field": "conc", "type": "quantitative", "scale": {"type": "log", "domain": [0.85, 20000], "nice": false},
       "axis": {"values": [1, 4, 10, 20, 30, 40, 50, 60, 70, 80, 90, 100, 400, 1000, 2000, 3000, 4000, 5000, 6000, 7000, 8000, 9000, 10000],
        "labelExpr": "datum.value == 1 || datum.value == 100 || datum.value == 10000 ? format(datum.value, 'd') : ''",
        "tickSize": {"condition": {"test": "datum.value == 1 || datum.value == 100 || datum.value == 10000", "value": 8}, "value": 4},
        "labelPadding": 2, "title": "NaNO₂ / µM     →", "titlePadding": 7}},
      "y": {"field": "p", "type": "quantitative", "scale": {"domain": [0, 1], "nice": false},
       "axis": {"values": [0, 0.2, 0.4, 0.6, 0.8, 1], "format": ".1f", "tickSize": 7, "labelPadding": 1, "title": "Pred  →", "titleFontStyle": "italic", "titlePadding": 22, "titleY": 146}}
     },
     "layer": [
      {"transform": [{"filter": "datum.series == 'A' || datum.series == 'B'"}], "mark": {"type": "line", "color": "black", "strokeWidth": 1.6}, "encoding": {"detail": {"field": "series"}}},
      {"mark": {"type": "point", "filled": true, "color": "black", "opacity": 1, "size": 42},
       "encoding": {
        "shape": {"field": "series", "type": "nominal", "scale": {"domain": ["A", "B", "Reduced", "Oxidized"], "range": ["circle", "square", "triangle-down", "triangle-up"]},
         "legend": {"orient": "none", "legendX": 3, "legendY": 184, "title": null, "labelFontSize": 21, "symbolFillColor": "black", "symbolStrokeColor": "black", "symbolStrokeWidth": 0, "symbolSize": 40, "labelOffset": 32, "rowPadding": 4, "padding": 0}}
       }}
     ]
    }
   ]
  }
 ]
}
